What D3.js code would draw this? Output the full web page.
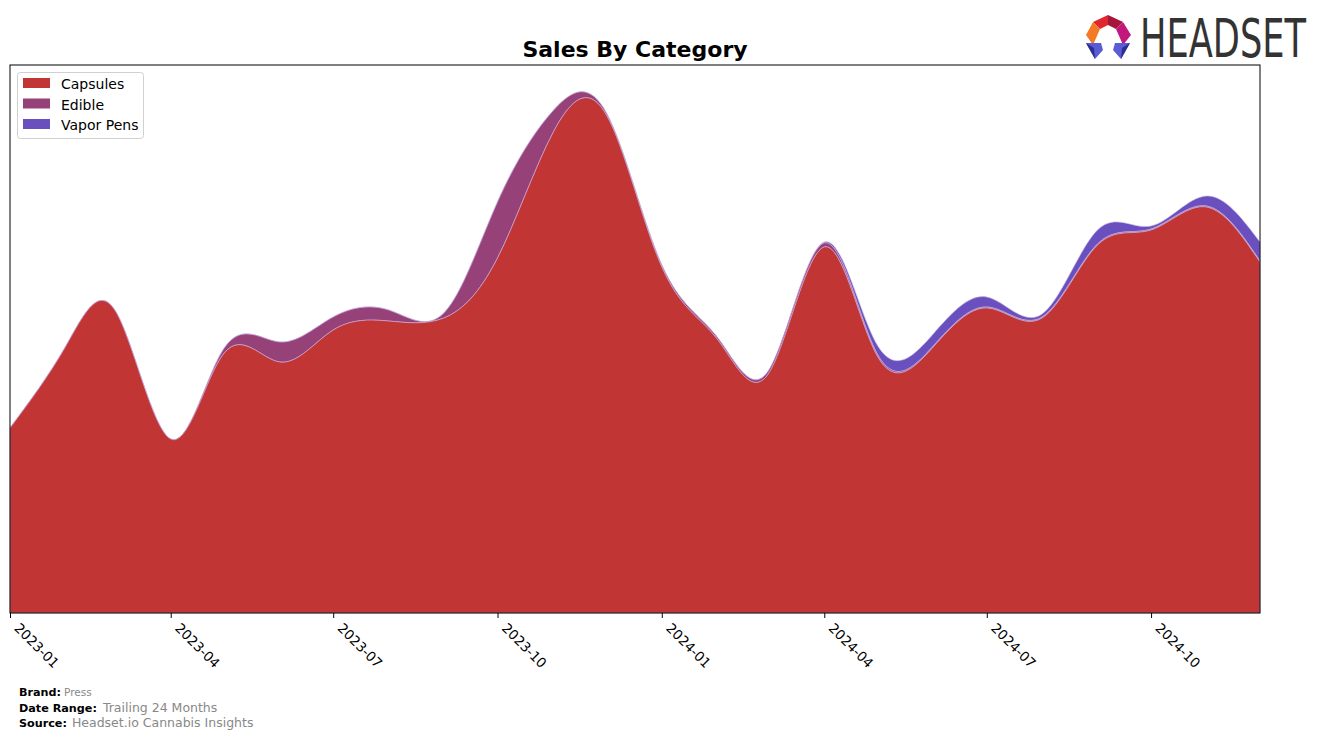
<!DOCTYPE html>
<html>
<head>
<meta charset="utf-8">
<script src="https://cdn.jsdelivr.net/npm/d3@7"></script>
<style>
  body { margin: 0; background: #fff; }
  svg { display: block; font-family: "DejaVu Sans", sans-serif; }
</style>
</head>
<body>
<svg id="chart" width="1324" height="739"></svg>
<script>
const months = ["2023-01","2023-02","2023-03","2023-04","2023-05","2023-06","2023-07","2023-08","2023-09","2023-10","2023-11","2023-12",
                "2024-01","2024-02","2024-03","2024-04","2024-05","2024-06","2024-07","2024-08","2024-09","2024-10","2024-11","2024-12"];
const categories = ["Capsules", "Edible", "Vapor Pens"];
const capsules  = [185,266,302,174,260,251,283,292,295,355,480,498,346,274,240,366,256,266,305,295,368,383,406,351];
const edible    = [0,0,0,0,5,20,13,11,5,56,22,2,2,2,3,4,2,1,1,1,1,1,1,1];
const vaporPens = [0,0,0,0,0,0,0,0,0,0,0,0,0,0,0,1,9,12,10,3,14,3,10,19];
const tickLabels = ["2023-01","2023-04","2023-07","2023-10","2024-01","2024-04","2024-07","2024-10"];
const colors = ["#c13535", "#974179", "#6a4fbf"];

const svg = d3.select("#chart");
const margin = {left: 10, right: 1260, top: 65, bottom: 613};
const parse = d3.timeParse("%Y-%m");
const dates = months.map(parse);

const x = d3.scaleTime().domain([dates[0], dates[dates.length-1]]).range([margin.left, margin.right]);
const y = d3.scaleLinear().domain([0, 548]).range([margin.bottom, margin.top]);

const rows = months.map((m, i) => ({date: dates[i], "Capsules": capsules[i], "Edible": edible[i], "Vapor Pens": vaporPens[i]}));
const stack = d3.stack().keys(categories);
const series = stack(rows);

const area = d3.area()
  .x(d => x(d.data.date))
  .y0(d => y(d[0]))
  .y1(d => y(d[1]))
  .curve(d3.curveNatural);

svg.append("g").selectAll("path")
  .data(series.slice().reverse())
  .join("path")
  .attr("d", area)
  .attr("fill", d => colors[categories.indexOf(d.key)])
  .attr("stroke", "#c9b6e6")
  .attr("stroke-width", 0.6);

// frame
svg.append("rect")
  .attr("x", margin.left).attr("y", margin.top)
  .attr("width", margin.right - margin.left).attr("height", margin.bottom - margin.top)
  .attr("fill", "none").attr("stroke", "#000").attr("stroke-width", 1);

// x axis
const tickDates = tickLabels.map(parse);
const xAxis = d3.axisBottom(x).tickValues(tickDates).tickFormat(d3.timeFormat("%Y-%m")).tickSize(5).tickPadding(4);
const gx = svg.append("g").attr("transform", `translate(0,${margin.bottom})`).call(xAxis);
gx.select(".domain").remove();
gx.selectAll("line").attr("stroke", "#000");
gx.selectAll("text")
  .attr("font-size", 13.5).attr("fill", "#000")
  .attr("font-family", "DejaVu Sans, sans-serif")
  .attr("text-anchor", "start")
  .attr("x", 0).attr("y", 0).attr("dy", null)
  .attr("transform", "translate(3,16) rotate(45)");

// title
svg.append("text").attr("x", 635).attr("y", 57).attr("text-anchor", "middle")
  .attr("font-size", 22).attr("font-weight", "bold").text("Sales By Category");

// legend
const lg = svg.append("g");
lg.append("rect").attr("x", 17.5).attr("y", 72.5).attr("width", 126).attr("height", 66)
  .attr("rx", 3).attr("fill", "#fff").attr("stroke", "#d0d0d0");
categories.forEach((c, i) => {
  lg.append("rect").attr("x", 23).attr("y", 78 + i*20.5).attr("width", 27).attr("height", 10).attr("fill", colors[i]);
  lg.append("text").attr("x", 61).attr("y", 89 + i*20.5).attr("font-size", 14).text(c);
});

// footer
const foot = [["Brand:", "Press", 696, 10.5, 3], ["Date Range:", "Trailing 24 Months", 712, 12.5, 6], ["Source:", "Headset.io Cannabis Insights", 727, 12.5, 5]];
foot.forEach(([k, v, yy, fs, gap]) => {
  const t = svg.append("text").attr("x", 19).attr("y", yy);
  t.append("tspan").attr("font-weight", "bold").attr("font-size", 11.2).attr("fill", "#000").text(k);
  t.append("tspan").attr("font-size", fs).attr("fill", "#888").attr("dx", gap).text(v);
});

// logo
const logo = svg.append("g");
const facets = [
  {p: [[1093,22],[1108,15],[1108,25],[1100,29]], c: "#e0262f"},
  {p: [[1108,15],[1123,22],[1116,29],[1108,25]], c: "#a5163a"},
  {p: [[1123,22],[1131,35],[1123,45],[1116,29]], c: "#c2187d"},
  {p: [[1093,22],[1100,29],[1093,45],[1086,35]], c: "#f47a25"},
  {p: [[1086,43],[1101,43],[1103,50],[1095,59]], c: "#5b5bd6"},
  {p: [[1115,43],[1130,43],[1121,59],[1113,50]], c: "#5b5bd6"},
  {p: [[1086,43],[1094,48],[1095,59]], c: "#2b2f8f"},
  {p: [[1130,43],[1122,48],[1121,59]], c: "#2b2f8f"}
];
facets.forEach(f => logo.append("polygon").attr("points", f.p.map(q => q.join(",")).join(" ")).attr("fill", f.c));
const lt = logo.append("text").attr("x", 0).attr("y", 0).attr("font-size", 53)
  .attr("font-family", "DejaVu Sans Condensed, DejaVu Sans, sans-serif").attr("fill", "#333")
  .text("HEADSET");
const w = lt.node().getComputedTextLength();
lt.attr("transform", `translate(1140,57) scale(${166 / w},1)`);
</script>
</body>
</html>
